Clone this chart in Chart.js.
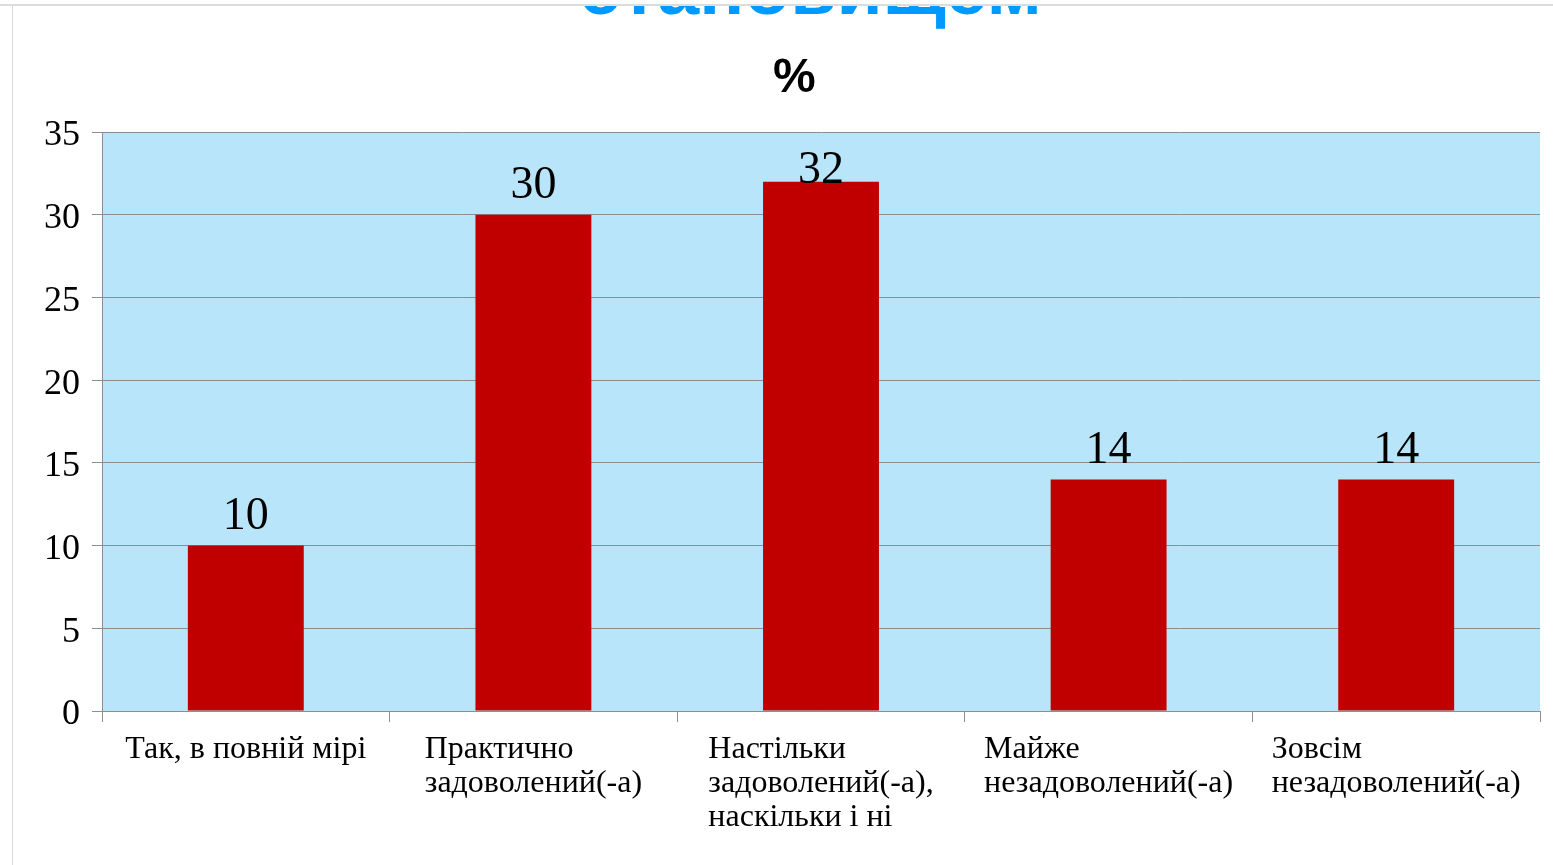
<!DOCTYPE html>
<html>
<head>
<meta charset="utf-8">
<script src="https://cdn.jsdelivr.net/npm/chart.js@4/dist/chart.umd.min.js"></script>
<style>
  body { margin: 0; background: #fff; }
  #wrap { position: relative; width: 1553px; height: 865px; overflow: hidden; background: #fff; }
  #holder { position: absolute; left: 0; top: -50px; width: 1553px; height: 915px; }
  #topline { position: absolute; left: 0; top: 0; width: 1553px; height: 4px; background: #fff; border-bottom: 2px solid #dcdcdc; }
  #leftline { position: absolute; left: 12px; top: 5px; width: 1px; height: 860px; background: #d9d9d9; }
</style>
</head>
<body>
<div id="wrap">
  <div id="holder"><canvas id="chart" width="1553" height="915"></canvas></div>
  <div id="topline"></div>
  <div id="leftline"></div>
</div>
<script>
// data
const categories = [
  ["Так, в повній мірі"],
  ["Практично", "задоволений(-а)"],
  ["Настільки", "задоволений(-а),", "наскільки і ні"],
  ["Майже", "незадоволений(-а)"],
  ["Зовсім", "незадоволений(-а)"]
];
const percents = [10, 30, 32, 14, 14];
const yTicks = [0, 5, 10, 15, 20, 25, 30, 35];

// trailing spaces nudge the centred text a little to the left, like the original
const titleText = "становищем ";
const subtitleText = "%    ";

const serif = "'Liberation Serif', 'Times New Roman', serif";
const sans = "'Liberation Sans', Arial, sans-serif";
const gridGray = "#8e8e8e";

// plot area background
const plotBg = {
  id: "plotBg",
  beforeDraw(chart) {
    const a = chart.chartArea, ctx = chart.ctx;
    ctx.save();
    ctx.fillStyle = "#b8e5fa";
    ctx.fillRect(a.left, a.top, a.right - a.left, a.bottom - a.top);
    ctx.restore();
  }
};

// value labels above bars and the category labels (lines left aligned, block centred)
const textLabels = {
  id: "textLabels",
  afterDraw(chart) {
    const ctx = chart.ctx, a = chart.chartArea;
    const meta = chart.getDatasetMeta(0);
    ctx.save();
    ctx.fillStyle = "#000";
    ctx.font = "46px " + serif;
    ctx.textAlign = "center";
    ctx.textBaseline = "alphabetic";
    meta.data.forEach((bar, i) => {
      let y = bar.y - 16.5;
      if (y < a.top + 51) y = a.top + 51;
      ctx.fillText(String(percents[i]), bar.x, y);
    });

    const xs = chart.scales.x;
    ctx.font = "32px " + serif;
    ctx.textAlign = "left";
    categories.forEach((lines, i) => {
      const cx = xs.getPixelForValue(i);
      let w = 0;
      lines.forEach(l => { w = Math.max(w, ctx.measureText(l).width); });
      const x0 = cx - w / 2;
      lines.forEach((l, k) => {
        ctx.fillText(l, x0, a.bottom + 46.5 + k * 34.3);
      });
    });
    ctx.restore();
  }
};

new Chart(document.getElementById("chart"), {
  type: "bar",
  data: {
    labels: categories.map(c => c.join(" ")),
    datasets: [{
      data: percents,
      backgroundColor: "#c00000",
      borderWidth: 0,
      barPercentage: 0.403,
      categoryPercentage: 1.0
    }]
  },
  options: {
    responsive: false,
    animation: false,
    devicePixelRatio: 1,
    layout: { padding: { left: 0, right: 13, top: 0, bottom: 0 } },
    plugins: {
      legend: { display: false },
      tooltip: { enabled: false },
      title: {
        display: true,
        fullSize: false,
        text: titleText,
        color: "#0099ff",
        font: { family: sans, size: 75, weight: "bold", lineHeight: 1.1 },
        padding: { top: 1.75, bottom: 15.35 }
      },
      subtitle: {
        display: true,
        fullSize: false,
        text: subtitleText,
        color: "#000",
        font: { family: sans, size: 48, weight: "bold", lineHeight: 1.2 },
        padding: { top: 0, bottom: 24.8 }
      }
    },
    scales: {
      x: {
        grid: {
          offset: true,
          drawOnChartArea: false,
          drawTicks: true,
          tickLength: 11,
          color: gridGray
        },
        border: { color: gridGray, width: 1 },
        ticks: { display: false },
        afterFit(scale) { scale.height = 154; }
      },
      y: {
        min: 0,
        max: 35,
        afterBuildTicks(scale) { scale.ticks = yTicks.map(v => ({ value: v })); },
        grid: { color: gridGray, lineWidth: 1, tickLength: 10, drawTicks: true },
        border: { color: gridGray, width: 1 },
        ticks: {
          color: "#000",
          padding: 12,
          labelOffset: 4,
          font: { family: serif, size: 36 }
        },
        afterFit(scale) { scale.width = 102; }
      }
    }
  },
  plugins: [plotBg, textLabels]
});
</script>
</body>
</html>
